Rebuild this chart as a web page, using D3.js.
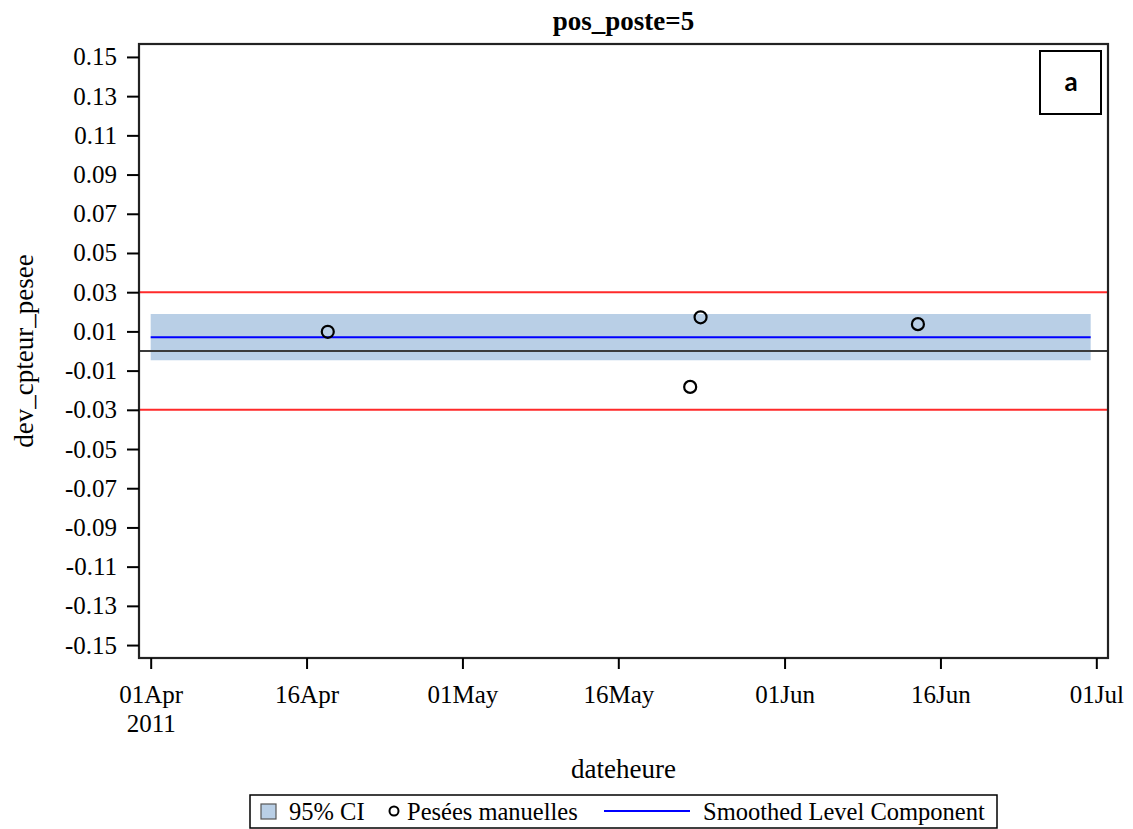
<!DOCTYPE html>
<html>
<head>
<meta charset="utf-8">
<script src="https://cdn.jsdelivr.net/npm/d3@7"></script>
<style>
  body { margin: 0; background: #fff; }
</style>
</head>
<body>
<svg id="chart"></svg>
<script>
// observed manual weighings
const obsDates = ["2011-04-18T01:00", "2011-05-22T22:00", "2011-05-23T22:00", "2011-06-13T20:00"];
const obsValues = [0.0098, -0.0183, 0.0172, 0.0137];

// smoothed level component and its 95% CI
const smoothDates = ["2011-04-01T00:00", "2011-06-30T11:00"];
const smoothLevel = [0.0070, 0.0070];
const ciLower = [-0.0047, -0.0047];
const ciUpper = [0.0189, 0.0189];

// reference lines
const limitLines = [-0.03, 0.03];
const zeroLine = 0;

const yTicks = [-0.15, -0.13, -0.11, -0.09, -0.07, -0.05, -0.03, -0.01, 0.01, 0.03, 0.05, 0.07, 0.09, 0.11, 0.13, 0.15];
const xTicks = ["2011-04-01", "2011-04-16", "2011-05-01", "2011-05-16", "2011-06-01", "2011-06-16", "2011-07-01"];

const parse = d3.utcParse("%Y-%m-%dT%H:%M");
const parseDay = d3.utcParse("%Y-%m-%d");
const SERIF = '"Liberation Serif", "Times New Roman", serif';

const width = 1133, height = 829;
const svg = d3.select('#chart')
  .attr('width', width)
  .attr('height', height);

const mLeft = 139, mRight = 1108, mTop = 44, mBottom = 658;

const x = d3.scaleUtc()
  .domain([parse("2011-03-30T21:00"), parse("2011-07-02T03:00")])
  .range([mLeft, mRight]);
const y = d3.scaleLinear().domain([-0.1566, 0.1566]).range([mBottom, mTop]);

const fmt = d3.formatLocale({decimal: ".", thousands: ",", grouping: [3], currency: ["", ""], minus: "-"}).format(".2f");

// CI band
const band = smoothDates.map((d, i) => ({ t: parse(d), lo: ciLower[i], hi: ciUpper[i], v: smoothLevel[i] }));
svg.append("path")
  .datum(band)
  .attr("fill", "#b9cfe6")
  .attr("d", d3.area().x(d => x(d.t)).y0(d => y(d.lo)).y1(d => y(d.hi)));

// limits
svg.selectAll("line.limit")
  .data(limitLines)
  .enter().append("line")
  .attr("class", "limit")
  .attr("x1", mLeft).attr("x2", mRight)
  .attr("y1", d => y(d)).attr("y2", d => y(d))
  .attr("stroke", "#ff2a2a")
  .attr("stroke-width", 2);

svg.append("line")
  .attr("x1", mLeft).attr("x2", mRight)
  .attr("y1", y(zeroLine)).attr("y2", y(zeroLine))
  .attr("stroke", "#3a3a3a")
  .attr("stroke-width", 2);

// smoothed level
svg.append("path")
  .datum(band)
  .attr("fill", "none")
  .attr("stroke", "#0000ff")
  .attr("stroke-width", 2)
  .attr("d", d3.line().x(d => x(d.t)).y(d => y(d.v)));

// observations
svg.selectAll("circle.obs")
  .data(obsDates.map((d, i) => ({ t: parse(d), v: obsValues[i] })))
  .enter().append("circle")
  .attr("class", "obs")
  .attr("cx", d => x(d.t))
  .attr("cy", d => y(d.v))
  .attr("r", 6)
  .attr("fill", "none")
  .attr("stroke", "#000")
  .attr("stroke-width", 2.2);

// frame
svg.append("rect")
  .attr("x", mLeft).attr("y", mTop)
  .attr("width", mRight - mLeft).attr("height", mBottom - mTop)
  .attr("fill", "none")
  .attr("stroke", "#222")
  .attr("stroke-width", 2.2);

// axes
const gy = svg.append("g")
  .attr("transform", `translate(${mLeft},0)`)
  .call(d3.axisLeft(y).tickValues(yTicks).tickSize(12).tickPadding(10).tickFormat(fmt));
gy.select(".domain").remove();
gy.selectAll(".tick line").attr("stroke", "#000").attr("stroke-width", 2);
gy.selectAll(".tick text").style("font-size", "25px").style("font-family", SERIF).attr("fill", "#000");

const gx = svg.append("g")
  .attr("transform", `translate(0,${mBottom})`)
  .call(d3.axisBottom(x).tickValues(xTicks.map(parseDay)).tickSize(11).tickPadding(16)
    .tickFormat(d3.utcFormat("%d%b")));
gx.select(".domain").remove();
gx.selectAll(".tick line").attr("stroke", "#000").attr("stroke-width", 2);
gx.selectAll(".tick text").style("font-size", "25px").style("font-family", SERIF).attr("fill", "#000");
gx.select(".tick text")
  .append("tspan")
  .attr("x", 0).attr("dy", "1.15em")
  .text("2011");

// titles
svg.append("text")
  .attr("x", (mLeft + mRight) / 2).attr("y", 30)
  .attr("text-anchor", "middle")
  .style("font-family", SERIF)
  .style("font-size", "27px").style("font-weight", "bold")
  .text("pos_poste=5");

svg.append("text")
  .attr("x", (mLeft + mRight) / 2).attr("y", 778)
  .attr("text-anchor", "middle")
  .style("font-family", SERIF)
  .style("font-size", "27px")
  .text("dateheure");

svg.append("text")
  .attr("transform", `translate(33,${(mTop + mBottom) / 2}) rotate(-90)`)
  .attr("text-anchor", "middle")
  .style("font-family", SERIF)
  .style("font-size", "27px")
  .text("dev_cpteur_pesee");

// panel letter
svg.append("rect")
  .attr("x", 1040).attr("y", 51).attr("width", 61).attr("height", 63)
  .attr("fill", "#fff").attr("stroke", "#000").attr("stroke-width", 2);
svg.append("text")
  .attr("x", 1071).attr("y", 91)
  .attr("text-anchor", "middle")
  .style("font-weight", "bold")
  .style("font-size", "26px")
  .style("font-family", "Lato, sans-serif")
  .text("a");

// legend
const lg = svg.append("g").style("font-family", SERIF).style("font-size", "24.5px");
lg.append("rect")
  .attr("x", 250).attr("y", 795).attr("width", 747).attr("height", 33)
  .attr("fill", "#fff").attr("stroke", "#000").attr("stroke-width", 1.5);
lg.append("rect")
  .attr("x", 261).attr("y", 804).attr("width", 15).attr("height", 15)
  .attr("fill", "#b9cfe6").attr("stroke", "#555").attr("stroke-width", 1.2);
lg.append("text").attr("x", 289).attr("y", 820).text("95% CI");
lg.append("circle")
  .attr("cx", 394).attr("cy", 811).attr("r", 4.5)
  .attr("fill", "none").attr("stroke", "#000").attr("stroke-width", 2);
lg.append("text").attr("x", 407).attr("y", 820).text("Pesées manuelles");
lg.append("line")
  .attr("x1", 604).attr("x2", 690).attr("y1", 811).attr("y2", 811)
  .attr("stroke", "#0000ff").attr("stroke-width", 2);
lg.append("text").attr("x", 703).attr("y", 820).text("Smoothed Level Component");
</script>
</body>
</html>
